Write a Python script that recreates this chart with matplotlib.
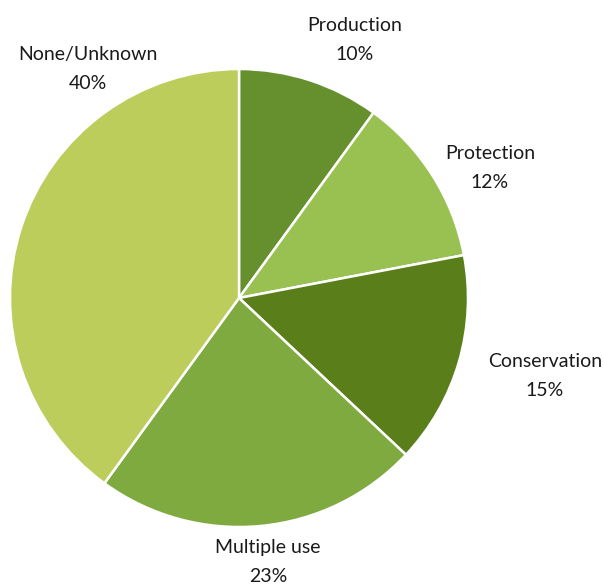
import matplotlib.pyplot as plt

categories = ['Production', 'Protection', 'Conservation', 'Multiple use', 'None/Unknown']
shares = [10, 12, 15, 23, 40]
colors = ['#66902e', '#98c152', '#5a7f1a', '#7faa40', '#bccd5c']

# label centres in figure pixels (from top-left)
label_pos = [(355, 40), (490, 168), (545, 376), (268, 562), (88, 69)]

W, H = 604, 585
fig = plt.figure(figsize=(W / 100, H / 100), dpi=100)

cx, cy, r = 239, 298, 229
ax = fig.add_axes([(cx - r) / W, (H - cy - r) / H, 2 * r / W, 2 * r / H])
ax.pie(shares, colors=colors, startangle=90, counterclock=False, radius=1,
       wedgeprops=dict(edgecolor='white', linewidth=1.8))
ax.set_xlim(-1, 1)
ax.set_ylim(-1, 1)
ax.set_aspect('equal')
ax.axis('off')

for name, val, (px, py) in zip(categories, shares, label_pos):
    fig.text(px / W, (H - py) / H, f'{name}\n{val}%', ha='center', va='center',
             fontsize=14, family='Lato', linespacing=1.85, color='#1a1a1a')

fig.savefig('out.png', dpi=100)
